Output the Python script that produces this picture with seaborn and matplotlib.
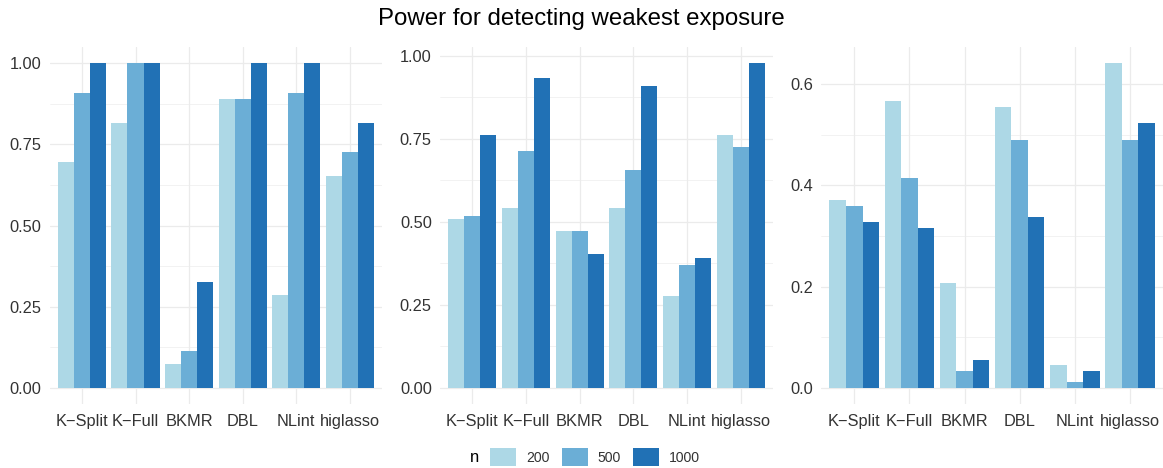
import numpy as np
import pandas as pd
import matplotlib
matplotlib.use("Agg")
import matplotlib.pyplot as plt
import seaborn as sns
from matplotlib.ticker import MultipleLocator

methods = ["K\u2212Split", "K\u2212Full", "BKMR", "DBL", "NLint", "higlasso"]
n_levels = ["200", "500", "1000"]

# panel 1
p1_200 = [0.696, 0.816, 0.073, 0.890, 0.286, 0.653]
p1_500 = [0.909, 1.000, 0.113, 0.890, 0.909, 0.727]
p1_1000 = [1.000, 1.000, 0.326, 1.000, 1.000, 0.816]
# panel 2
p2_200 = [0.508, 0.541, 0.472, 0.541, 0.276, 0.761]
p2_500 = [0.517, 0.713, 0.472, 0.656, 0.369, 0.725]
p2_1000 = [0.761, 0.933, 0.403, 0.909, 0.391, 0.978]
# panel 3
p3_200 = [0.370, 0.566, 0.207, 0.554, 0.045, 0.641]
p3_500 = [0.359, 0.414, 0.033, 0.489, 0.011, 0.489]
p3_1000 = [0.327, 0.315, 0.055, 0.337, 0.033, 0.522]

colors = {"200": "#ADD8E6", "500": "#6BAED6", "1000": "#2171B5"}
title = "Power for detecting weakest exposure"

panels = [
    (p1_200, p1_500, p1_1000, 0.25),
    (p2_200, p2_500, p2_1000, 0.25),
    (p3_200, p3_500, p3_1000, 0.2),
]

def long_df(a, b, c):
    rows = []
    for lvl, vals in zip(n_levels, [a, b, c]):
        for m, v in zip(methods, vals):
            rows.append({"method": m, "n": lvl, "power": v})
    return pd.DataFrame(rows)

sns.set_theme(style="white")
plt.rcParams["font.family"] = ["Liberation Sans", "DejaVu Sans"]

W, H = 1163, 468
fig = plt.figure(figsize=(W / 100, H / 100), dpi=100)

# axes boxes in pixels: (left, right)
boxes = [(49.8, 382.0), (440.1, 772.9), (821.2, 1163.0)]
top_px, bot_px = 47.0, 404.0

grid_col = "#EBEBEB"
text_col = "#333333"
handles = None
for i, ((a, b, c, step), (l, r)) in enumerate(zip(panels, boxes)):
    ax = fig.add_axes([l / W, 1 - bot_px / H, (r - l) / W, (bot_px - top_px) / H])
    df = long_df(a, b, c)
    sns.barplot(data=df, x="method", y="power", hue="n", hue_order=n_levels,
                order=methods, palette=colors, width=0.9, gap=0, saturation=1,
                errorbar=None, ax=ax, legend=(i == 0), zorder=3, linewidth=0,
                edgecolor="none")
    ymax = max(max(a), max(b), max(c))
    ax.set_ylim(-0.05 * ymax, 1.05 * ymax)
    ax.set_xlim(-0.6, len(methods) - 0.4)
    ax.yaxis.set_major_locator(MultipleLocator(step))
    ax.yaxis.set_minor_locator(MultipleLocator(step / 2))
    if step == 0.25:
        ax.yaxis.set_major_formatter(matplotlib.ticker.FormatStrFormatter("%.2f"))
    else:
        ax.yaxis.set_major_formatter(matplotlib.ticker.FormatStrFormatter("%.1f"))
    ax.grid(True, which="major", axis="both", color=grid_col, lw=0.9, zorder=0)
    ax.grid(True, which="minor", axis="y", color=grid_col, lw=0.45, zorder=0)
    ax.set_axisbelow(True)
    for s in ax.spines.values():
        s.set_visible(False)
    ax.tick_params(axis="both", which="both", length=0, labelsize=11.8,
                   labelcolor=text_col)
    ax.tick_params(axis="x", pad=7)
    ax.tick_params(axis="y", pad=6)
    ax.set_xlabel("")
    ax.set_ylabel("")
    if i == 0:
        handles, labels = ax.get_legend_handles_labels()
        ax.get_legend().remove()

fig.suptitle(title, x=0.5, y=1 - 18.5 / H, va="center", fontsize=17.3, color="black")

fig.text(475 / W, 1 - 458 / H, "n", ha="center", va="center", fontsize=12, color="black")
fig.legend(handles, n_levels, loc="center left", bbox_to_anchor=(490 / W, 1 - 457 / H),
           ncol=3, frameon=False, fontsize=10.1, handlelength=1.87, handleheight=1.58,
           handletextpad=0.7, columnspacing=0.87, borderpad=0, borderaxespad=0,
           labelcolor=text_col)

fig.savefig("out.png", dpi=100)
